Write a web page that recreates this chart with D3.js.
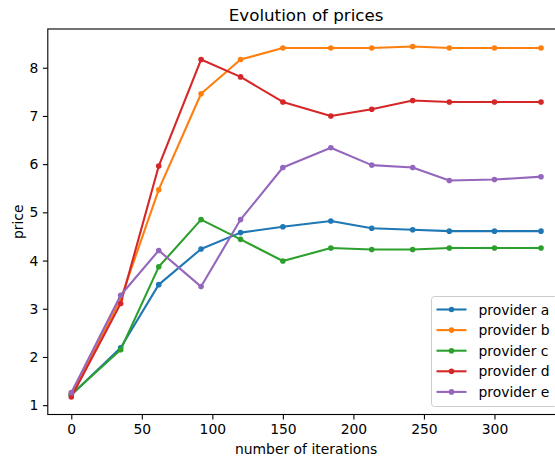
<!DOCTYPE html>
<html>
<head>
<meta charset="utf-8">
<script src="https://cdn.jsdelivr.net/npm/d3@7"></script>
<style>
  html, body { margin: 0; padding: 0; background: #fff; overflow: hidden; }
  svg { display: block; font-family: "DejaVu Sans", sans-serif; }
</style>
</head>
<body>
<svg id="chart" width="555" height="460"></svg>
<script>
// iteration counts at which prices were sampled
const iterations = [0, 35, 62, 92, 120, 150, 184, 213, 242, 268, 300, 333];

// price per provider at each sample
const providerA = [1.21, 2.19, 3.50, 4.24, 4.58, 4.70, 4.82, 4.67, 4.64, 4.61, 4.61, 4.61];
const providerB = [1.23, 3.20, 5.47, 7.46, 8.17, 8.41, 8.41, 8.41, 8.44, 8.41, 8.41, 8.41];
const providerC = [1.22, 2.15, 3.87, 4.85, 4.44, 3.99, 4.26, 4.23, 4.23, 4.26, 4.26, 4.26];
const providerD = [1.17, 3.11, 5.96, 8.17, 7.81, 7.29, 7.00, 7.14, 7.32, 7.29, 7.29, 7.29];
const providerE = [1.26, 3.28, 4.21, 3.46, 4.85, 5.93, 6.34, 5.98, 5.93, 5.66, 5.68, 5.74];

const seriesNames = ["provider a", "provider b", "provider c", "provider d", "provider e"];
const seriesColors = ["#1f77b4", "#ff7f0e", "#2ca02c", "#d62728", "#9467bd"];

const xTicks = [0, 50, 100, 150, 200, 250, 300];
const yTicks = [1, 2, 3, 4, 5, 6, 7, 8];

const series = [providerA, providerB, providerC, providerD, providerE].map((vals, i) => ({
  name: seriesNames[i],
  color: seriesColors[i],
  points: vals.map((v, j) => ({ x: iterations[j], y: v }))
}));

const svg = d3.select("#chart");
const plot = { left: 47.8, top: 29, right: 564.5, bottom: 414.5 };

// axis limits with 5% margins on each side
function padded(lo, hi) {
  const m = (hi - lo) * 0.05;
  return [lo - m, hi + m];
}
const allY = series.flatMap(s => s.points.map(p => p.y));
const x = d3.scaleLinear()
  .domain(padded(d3.min(iterations), d3.max(iterations)))
  .range([plot.left, plot.right]);
const y = d3.scaleLinear()
  .domain(padded(d3.min(allY), d3.max(allY)))
  .range([plot.bottom, plot.top]);

const fontSize = 13.9;

// axes
const xAxis = svg.append("g")
  .attr("transform", `translate(0,${plot.bottom})`)
  .call(d3.axisBottom(x).tickValues(xTicks).tickFormat(d3.format("d")).tickSize(4.9).tickPadding(4.5));
const yAxis = svg.append("g")
  .attr("transform", `translate(${plot.left},0)`)
  .call(d3.axisLeft(y).tickValues(yTicks).tickFormat(d3.format("d")).tickSize(4.9).tickPadding(4.5));
[xAxis, yAxis].forEach(g => {
  g.select(".domain").remove();
  g.selectAll(".tick line").attr("stroke", "#000").attr("stroke-width", 1.1);
  g.selectAll(".tick text")
    .attr("fill", "#000")
    .style("font-family", "DejaVu Sans, sans-serif")
    .style("font-size", fontSize + "px");
});

// lines and markers
const line = d3.line().x(d => x(d.x)).y(d => y(d.y));
const gSeries = svg.append("g");
series.forEach(s => {
  gSeries.append("path")
    .datum(s.points)
    .attr("d", line)
    .attr("fill", "none")
    .attr("stroke", s.color)
    .attr("stroke-width", 2.1)
    .attr("stroke-linejoin", "round")
    .attr("stroke-linecap", "square");
  gSeries.selectAll(null)
    .data(s.points)
    .enter().append("circle")
    .attr("cx", d => x(d.x))
    .attr("cy", d => y(d.y))
    .attr("r", 2.8)
    .attr("fill", s.color);
});

// frame
svg.append("rect")
  .attr("x", plot.left).attr("y", plot.top)
  .attr("width", plot.right - plot.left).attr("height", plot.bottom - plot.top)
  .attr("fill", "none").attr("stroke", "#000").attr("stroke-width", 1.1);

// title and axis labels
svg.append("text")
  .attr("x", (plot.left + plot.right) / 2).attr("y", 20.5)
  .attr("text-anchor", "middle")
  .style("font-size", "16.7px")
  .text("Evolution of prices");
svg.append("text")
  .attr("x", (plot.left + plot.right) / 2).attr("y", 454)
  .attr("text-anchor", "middle")
  .style("font-size", fontSize + "px")
  .text("number of iterations");
svg.append("text")
  .attr("transform", `translate(23,${(plot.top + plot.bottom) / 2}) rotate(-90)`)
  .attr("text-anchor", "middle")
  .style("font-size", fontSize + "px")
  .text("price");

// legend, lower right
const legend = svg.append("g");
const lgLeft = 431.5, lgTop = 296.5, rowH = 20.6;
legend.append("rect")
  .attr("x", lgLeft).attr("y", lgTop)
  .attr("width", 126).attr("height", 110)
  .attr("rx", 3)
  .attr("fill", "#fff").attr("fill-opacity", 0.8)
  .attr("stroke", "#cccccc").attr("stroke-width", 1);
series.forEach((s, i) => {
  const cy = lgTop + 13 + i * rowH;
  legend.append("line")
    .attr("x1", lgLeft + 5).attr("x2", lgLeft + 35)
    .attr("y1", cy).attr("y2", cy)
    .attr("stroke", s.color).attr("stroke-width", 2.1);
  legend.append("circle")
    .attr("cx", lgLeft + 20).attr("cy", cy).attr("r", 2.8)
    .attr("fill", s.color);
  legend.append("text")
    .attr("x", lgLeft + 47).attr("y", cy + 5)
    .style("font-size", fontSize + "px")
    .text(s.name);
});
</script>
</body>
</html>
